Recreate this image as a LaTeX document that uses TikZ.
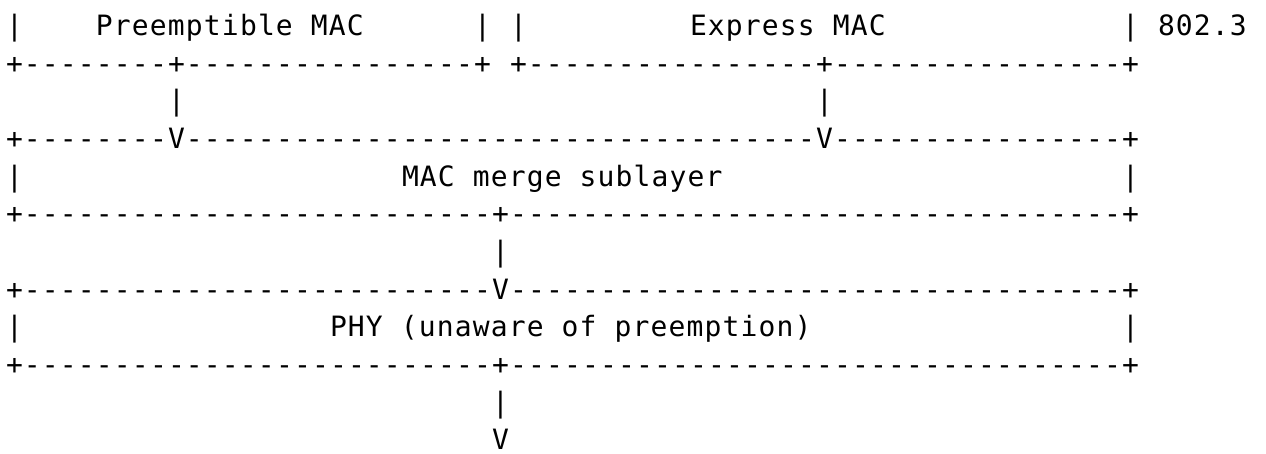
\documentclass[tikz,border=0pt]{standalone}
\usepackage{fontspec}
\setmonofont[LetterSpace=4.09]{DejaVu Sans Mono}
% \rpt{n}{x}: n copies of x
\ExplSyntaxOn
\NewExpandableDocumentCommand\rpt{mm}{\prg_replicate:nn{#1}{#2}}
\ExplSyntaxOff
\begin{document}
\begin{tikzpicture}[x=1pt,y=1pt,
  txt/.style={anchor=base west, inner sep=0pt, outer sep=0pt,
              font=\ttfamily\fontsize{14}{18}\selectfont}]
  \fill[white] (0,0) rectangle (633,227);
  \useasboundingbox (0,0) rectangle (633,227);
  % text run #4 named #1, starting at character column #2 of row #3
  \newcommand\cell[4]{\node[txt] (#1) at ({3+9*#2},{209.25-18.84*#3}) {#4};}
  % row 0: the two MAC boxes and the 802.3 label
  \cell{rAl}{0}{0}{|}
  \cell{pmac}{5}{0}{Preemptible MAC}
  \cell{rAm}{26}{0}{|}
  \cell{rAn}{28}{0}{|}
  \cell{emac}{38}{0}{Express MAC}
  \cell{rAr}{62}{0}{|}
  \cell{std}{64}{0}{802.3}
  % row 1: bottom edges of the MAC boxes
  \cell{pbot}{0}{1}{+\rpt{8}{-}+\rpt{16}{-}+}
  \cell{ebot}{28}{1}{+\rpt{16}{-}+\rpt{16}{-}+}
  % row 2: links down to the merge sublayer
  \cell{plink}{9}{2}{|}
  \cell{elink}{45}{2}{|}
  % row 3: top edge of the merge sublayer
  \cell{mtop}{0}{3}{+\rpt{8}{-}V\rpt{35}{-}V\rpt{16}{-}+}
  % row 4
  \cell{mlft}{0}{4}{|}
  \cell{merge}{22}{4}{MAC merge sublayer}
  \cell{mrgt}{62}{4}{|}
  % row 5
  \cell{mbot}{0}{5}{+\rpt{26}{-}+\rpt{34}{-}+}
  % row 6
  \cell{mlink}{27}{6}{|}
  % row 7
  \cell{ytop}{0}{7}{+\rpt{26}{-}V\rpt{34}{-}+}
  % row 8
  \cell{ylft}{0}{8}{|}
  \cell{phy}{18}{8}{PHY (unaware of preemption)}
  \cell{yrgt}{62}{8}{|}
  % row 9
  \cell{ybot}{0}{9}{+\rpt{26}{-}+\rpt{34}{-}+}
  % rows 10-11: output arrow
  \cell{ylink}{27}{10}{|}
  \cell{yarr}{27}{11}{V}
\end{tikzpicture}
\end{document}
